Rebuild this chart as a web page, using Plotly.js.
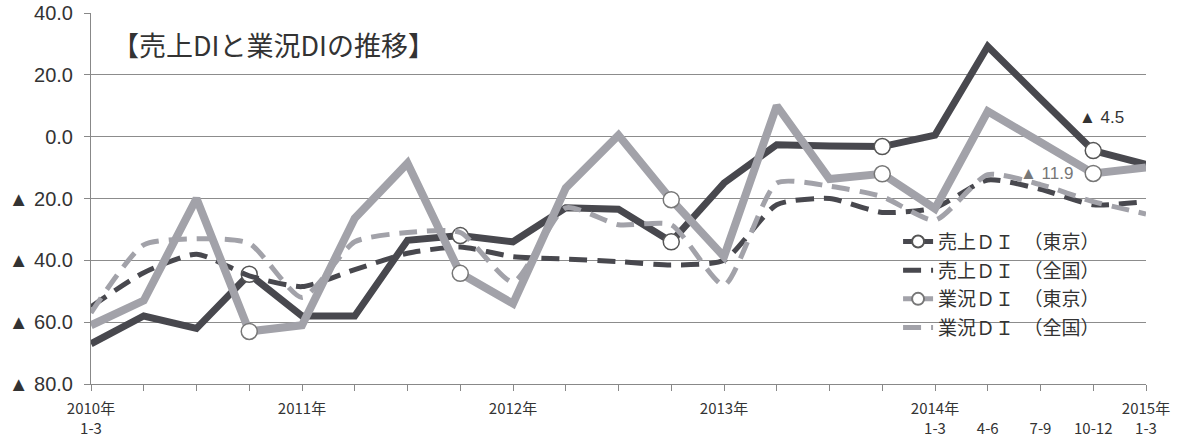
<!DOCTYPE html>
<html>
<head>
<meta charset="utf-8">
<script src="https://cdn.plot.ly/plotly-3.0.1.min.js"></script>
<style>
  html, body { margin: 0; padding: 0; background: #ffffff; }
  #chart { width: 1178px; height: 438px; }
</style>
</head>
<body>
<div id="chart"></div>
<script>
// Quarters (categories)
const quarters = [
  '2010Q1','2010Q2','2010Q3','2010Q4',
  '2011Q1','2011Q2','2011Q3','2011Q4',
  '2012Q1','2012Q2','2012Q3','2012Q4',
  '2013Q1','2013Q2','2013Q3','2013Q4',
  '2014Q1','2014Q2','2014Q3','2014Q4',
  '2015Q1'
];
const tickLabels = [
  '2010年<br>1-3','','','',
  '2011年','','','',
  '2012年','','','',
  '2013年','','','',
  '2014年<br>1-3','\u00a0<br>4-6','\u00a0<br>7-9','\u00a0<br>10-12',
  '2015年<br>1-3'
];

// Series values
const salesTokyo    = [-67, -58, -62, -44.5, -58, -58, -33.5, -32, -34, -23, -23.5, -34, -15, -2.6, -3, -3.2, 0.5, 29.2, 12.3, -4.5, -9];
const salesNational = [-55, -44, -38, -45, -48.5, -43, -37.7, -35.7, -38.8, -39.6, -40.4, -41.5, -40, -22, -20, -24.5, -23, -14, -17, -22, -21];
const condTokyo     = [-61, -53, -20, -63, -61, -26.4, -8.6, -44.2, -54, -16.6, 0.5, -20.4, -38.8, 10, -13.7, -12, -23.3, 8.2, -1.8, -11.9, -10];
const condNational  = [-57, -35, -33, -34.5, -52, -34, -31, -31, -47, -23, -28.5, -28.5, -48, -15, -16, -19.4, -27, -12.3, -15.5, -21, -25];

// Series names
const seriesNames = ['売上ＤＩ　（東京）', '売上ＤＩ　（全国）', '業況ＤＩ　（東京）', '業況ＤＩ　（全国）'];

// Y ticks
const yTickVals = [40, 20, 0, -20, -40, -60, -80];
const yTickText = ['40.0', '20.0', '0.0', '▲ 20.0', '▲ 40.0', '▲ 60.0', '▲ 80.0'];

const dark = '#48484e';
const light = '#a2a2a9';

// markers only on the 10-12 quarter of each year
const markerSizes = quarters.map(q => q.endsWith('Q4') ? 16 : 0);

const traces = [
  {
    x: quarters, y: salesTokyo, name: seriesNames[0], type: 'scatter', mode: 'lines+markers',
    line: { color: dark, width: 7 },
    marker: { size: markerSizes, color: 'rgb(255,255,255)', opacity: 1, line: { color: '#555', width: 1.5 } },
    legendgroup: 'a'
  },
  {
    x: quarters, y: salesNational, name: seriesNames[1], type: 'scatter', mode: 'lines',
    line: { color: dark, width: 5, dash: '18px,10px', shape: 'spline', smoothing: 0.6 },
    legendgroup: 'b'
  },
  {
    x: quarters, y: condTokyo, name: seriesNames[2], type: 'scatter', mode: 'lines+markers',
    line: { color: light, width: 8 },
    marker: { size: markerSizes, color: 'rgb(255,255,255)', opacity: 1, line: { color: '#777', width: 1.5 } },
    legendgroup: 'c'
  },
  {
    x: quarters, y: condNational, name: seriesNames[3], type: 'scatter', mode: 'lines',
    line: { color: light, width: 5, dash: '18px,10px', shape: 'spline', smoothing: 0.6 },
    legendgroup: 'd'
  }
];

const layout = {
  width: 1178, height: 438,
  margin: { l: 91, r: 32, t: 13, b: 54 },
  paper_bgcolor: '#ffffff', plot_bgcolor: '#ffffff',
  showlegend: true,
  legend: {
    x: 0.765, y: 0.435, xanchor: 'left', yanchor: 'top',
    bgcolor: 'rgba(255,255,255,0)',
    font: { family: 'Noto Sans CJK JP', size: 19, color: '#333' },
    traceorder: 'grouped', tracegroupgap: 1,
    itemsizing: 'constant'
  },
  xaxis: {
    type: 'category',
    range: [0, quarters.length - 1],
    tickmode: 'array', tickvals: quarters, ticktext: tickLabels,
    ticks: 'outside', ticklen: 6, tickcolor: '#888', tickwidth: 1,
    ticklabelstandoff: 5,
    showline: true, linecolor: '#888', linewidth: 1,
    showgrid: false, zeroline: false,
    tickangle: 0,
    tickfont: { family: 'Noto Sans CJK JP', size: 15, color: '#333' }
  },
  yaxis: {
    range: [-80, 40],
    tickmode: 'array', tickvals: yTickVals, ticktext: yTickText,
    ticks: 'outside', ticklen: 6, tickcolor: '#888', tickwidth: 1,
    ticklabelstandoff: 7,
    showline: true, linecolor: '#888', linewidth: 1,
    showgrid: true, gridcolor: '#8c8c8c', gridwidth: 1,
    zeroline: false,
    tickfont: { family: 'Liberation Sans, Arial, sans-serif', size: 20, color: '#333' }
  },
  annotations: [
    {
      xref: 'paper', yref: 'paper', x: 0.018, y: 0.914, xanchor: 'left', yanchor: 'middle',
      text: '【売上DIと業況DIの推移】', showarrow: false,
      font: { family: 'Noto Sans CJK JP', size: 27, color: '#333' }
    },
    {
      x: quarters[19], y: salesTokyo[19], xref: 'x', yref: 'y',
      text: '▲ 4.5', showarrow: false, xanchor: 'center', yanchor: 'middle',
      xshift: 8, yshift: 33,
      font: { family: 'Liberation Sans, Arial, sans-serif', size: 17, color: '#333' }
    },
    {
      x: quarters[19], y: condTokyo[19], xref: 'x', yref: 'y',
      text: '▲ 11.9', showarrow: false, xanchor: 'right', yanchor: 'middle',
      xshift: -18, yshift: 0,
      font: { family: 'Liberation Sans, Arial, sans-serif', size: 17, color: '#777' }
    }
  ]
};

Plotly.newPlot('chart', traces, layout, { displayModeBar: false, staticPlot: true });
</script>
</body>
</html>
